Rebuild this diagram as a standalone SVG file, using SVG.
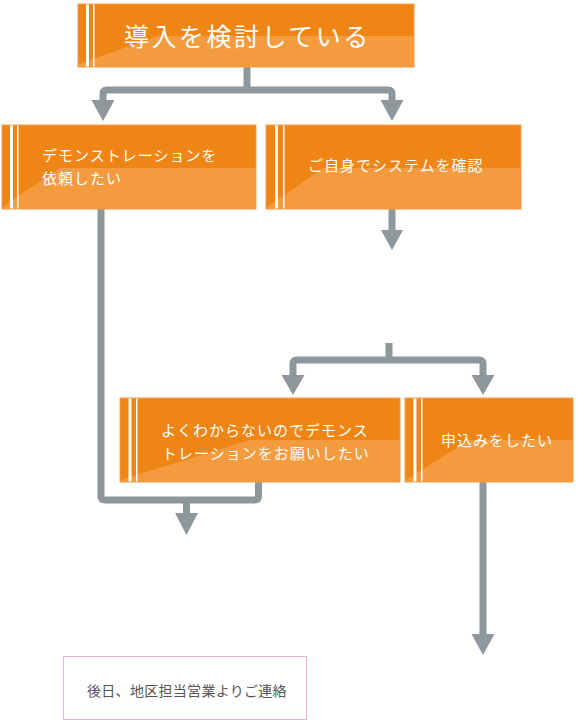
<svg xmlns="http://www.w3.org/2000/svg" width="587" height="727" viewBox="0 0 587 727">
<style>
.box{fill:#ef8514;stroke:#f5a253;stroke-width:1}
.gl{fill:#f39b3e}
.st1{fill:#ffffff}
.t{fill:#ffffff;font-family:"Noto Sans CJK JP","Noto Sans",sans-serif;font-size:15px;letter-spacing:1px}
.tb{fill:#ffffff;font-family:"Noto Sans CJK JP","Noto Sans",sans-serif;font-size:25px;letter-spacing:2.5px}
.c{fill:none;stroke:#8e979c;stroke-width:7;stroke-linecap:butt;stroke-linejoin:round}
.ah{fill:#8e979c}
.note{fill:#ffffff;stroke:#e8b3d6;stroke-width:1}
.nt{fill:#555555;font-family:"Noto Sans CJK JP","Noto Sans",sans-serif;font-size:14px;letter-spacing:0.3px}
</style>
<g id="connectors">
<path class="c" d="M247 67 V90"/>
<path class="c" d="M103 101 V94 Q103 90 107 90 H388 Q392 90 392 94 V101"/>
<polygon class="ah" points="91.5,100 114.5,100 103,121"/>
<polygon class="ah" points="380.5,100 403.5,100 392,121"/>
<path class="c" d="M392 209 V231"/>
<polygon class="ah" points="381,230 403,230 392,250"/>
<path class="c" d="M389 343 V360" stroke-linecap="round"/>
<path class="c" d="M293 376 V364 Q293 360 297 360 H479 Q483 360 483 364 V376"/>
<polygon class="ah" points="281.5,375 304.5,375 293,395"/>
<polygon class="ah" points="471.5,375 494.5,375 483,395"/>
<path class="c" d="M101 209 V496 Q101 500 105 500 H254.5 Q258.5 500 258.5 496 V482"/>
<path class="c" d="M186.5 500 V514"/>
<polygon class="ah" points="175,513 198,513 186.5,535"/>
<path class="c" d="M483 482 V636"/>
<polygon class="ah" points="471.5,634 494.5,634 483,655"/>
</g>
<g id="node-top">
<rect class="box" x="78" y="4" width="336" height="63"/>
<path class="gl" d="M158 36 H413.5 V66.5 H78.5 V64 Q118 50 158 36 Z"/>
<rect class="st1" x="86" y="4.5" width="3" height="62"/>
<rect class="st1" x="93" y="4.5" width="1.5" height="62"/>
<text class="tb" x="124" y="46">導入を検討している</text>
</g>
<g id="node-demo">
<rect class="box" x="2" y="125" width="254" height="84"/>
<path class="gl" d="M60 168 H255.5 V208.5 H2.5 V207 Q30 188 60 168 Z"/>
<rect class="st1" x="10" y="125.5" width="3" height="83"/>
<rect class="st1" x="17" y="125.5" width="1.5" height="83"/>
<text class="t" x="42" y="161">デモンストレーションを</text>
<text class="t" x="42" y="184">依頼したい</text>
</g>
<g id="node-self">
<rect class="box" x="266" y="125" width="255" height="84"/>
<path class="gl" d="M323 168 H520.5 V208.5 H266.5 V207 Q295 188 323 168 Z"/>
<rect class="st1" x="275" y="125.5" width="3" height="83"/>
<rect class="st1" x="283" y="125.5" width="1.5" height="83"/>
<text class="t" x="308" y="171">ご自身でシステムを確認</text>
</g>
<g id="node-unsure">
<rect class="box" x="120" y="398" width="280" height="84"/>
<path class="gl" d="M250 440 H399.5 V481.5 H120.5 V480 Q185 460 250 440 Z"/>
<rect class="st1" x="128.5" y="398.5" width="3" height="83"/>
<rect class="st1" x="136" y="398.5" width="1.5" height="83"/>
<text class="t" x="161" y="436">よくわからないのでデモンス</text>
<text class="t" x="162" y="459">トレーションをお願いしたい</text>
</g>
<g id="node-apply">
<rect class="box" x="405" y="398" width="168" height="84"/>
<path class="gl" d="M470 440 H572.5 V481.5 H405.5 V480 Q437 460 470 440 Z"/>
<rect class="st1" x="413.5" y="398.5" width="3" height="83"/>
<rect class="st1" x="421" y="398.5" width="1.5" height="83"/>
<text class="t" x="441" y="446">申込みをしたい</text>
</g>
<g id="node-contact">
<rect class="note" x="63.5" y="656.5" width="243" height="63"/>
<text class="nt" x="87" y="696">後日、地区担当営業よりご連絡</text>
</g>
</svg>
